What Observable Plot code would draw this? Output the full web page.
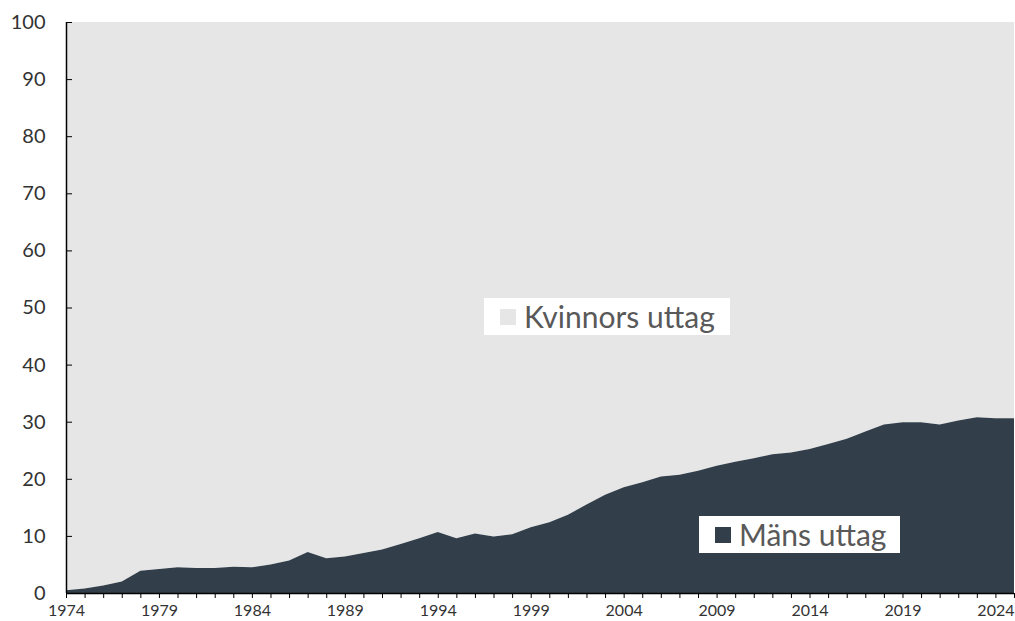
<!DOCTYPE html>
<html><head><meta charset="utf-8">
<script src="https://cdn.jsdelivr.net/npm/d3@7"></script>
<script src="https://cdn.jsdelivr.net/npm/@observablehq/plot@0.6"></script>
<style>
html,body{margin:0;padding:0;background:#fff;}
#wrap{position:relative;width:1015px;height:621px;font-family:Lato,"Open Sans",sans-serif;}
.lg{position:absolute;background:#fff;color:#595959;font-size:30px;line-height:37px;white-space:nowrap;display:flex;align-items:center;}
.sw{display:inline-block;width:16px;height:16px;margin-right:8px;flex:none;}
</style></head>
<body><div id="wrap"></div>
<script>
const years = d3.range(1974, 2026);
const mensShare = [0.5,0.8,1.3,2.0,3.9,4.2,4.5,4.4,4.4,4.6,4.5,5.0,5.7,7.2,6.1,6.4,7.0,7.6,8.6,9.6,10.7,9.6,10.4,9.9,10.3,11.5,12.4,13.7,15.5,17.2,18.5,19.4,20.4,20.7,21.4,22.3,23.0,23.6,24.3,24.6,25.2,26.1,27.0,28.3,29.5,29.9,29.9,29.5,30.2,30.8,30.6,30.6];
const yTicks = d3.range(0, 101, 10);
const xTickLabels = d3.range(1974, 2025, 5);
const seriesNames = ["Kvinnors uttag", "Mäns uttag"];
const colors = ["#e6e6e6", "#323f4b"];

const data = years.map((y, i) => ({year: y, men: mensShare[i]}));

const chart = Plot.plot({
  width: 1015, height: 621,
  marginLeft: 66, marginRight: 1, marginTop: 22, marginBottom: 28,
  style: {fontFamily: "Lato, 'Open Sans', sans-serif", color: "#333", background: "#fff"},
  x: {domain: [1974, 2025]},
  y: {domain: [0, 100]},
  marks: [
    Plot.areaY(data, {x: "year", y1: "men", y2: 100, fill: colors[0]}),
    Plot.areaY(data, {x: "year", y1: 0, y2: "men", fill: colors[1]}),
    Plot.axisY({ticks: yTicks, tickSize: 0, tickPadding: 21, fontSize: 20, label: null, fill: "#333"}),
    Plot.axisY({ticks: yTicks, tickSize: -6, text: null, label: null, stroke: "#000"}),
    Plot.axisX({ticks: years, tickSize: 5, text: null, label: null, stroke: "#000"}),
    Plot.axisX({ticks: xTickLabels, tickSize: 0, tickPadding: 11, tickFormat: d => String(d), fontSize: 16, label: null, fill: "#333"}),
    Plot.ruleY([0], {stroke: "#000", strokeWidth: 1.5}),
    Plot.ruleX([1974], {stroke: "#000", strokeWidth: 1.5})
  ]
});
const wrap = document.getElementById("wrap");
wrap.appendChild(chart);

const legends = [
  {name: seriesNames[0], color: colors[0], left: 484, top: 298, width: 246},
  {name: seriesNames[1], color: colors[1], left: 699, top: 516, width: 201}
];
for (const l of legends) {
  const d = document.createElement("div");
  d.className = "lg";
  d.style.left = l.left + "px"; d.style.top = l.top + "px"; d.style.width = l.width + "px"; d.style.height = "37px";
  d.style.paddingLeft = "16px"; d.style.boxSizing = "border-box";
  const s = document.createElement("span"); s.className = "sw"; s.style.background = l.color;
  d.appendChild(s);
  d.appendChild(document.createTextNode(l.name));
  wrap.appendChild(d);
}
</script></body></html>
